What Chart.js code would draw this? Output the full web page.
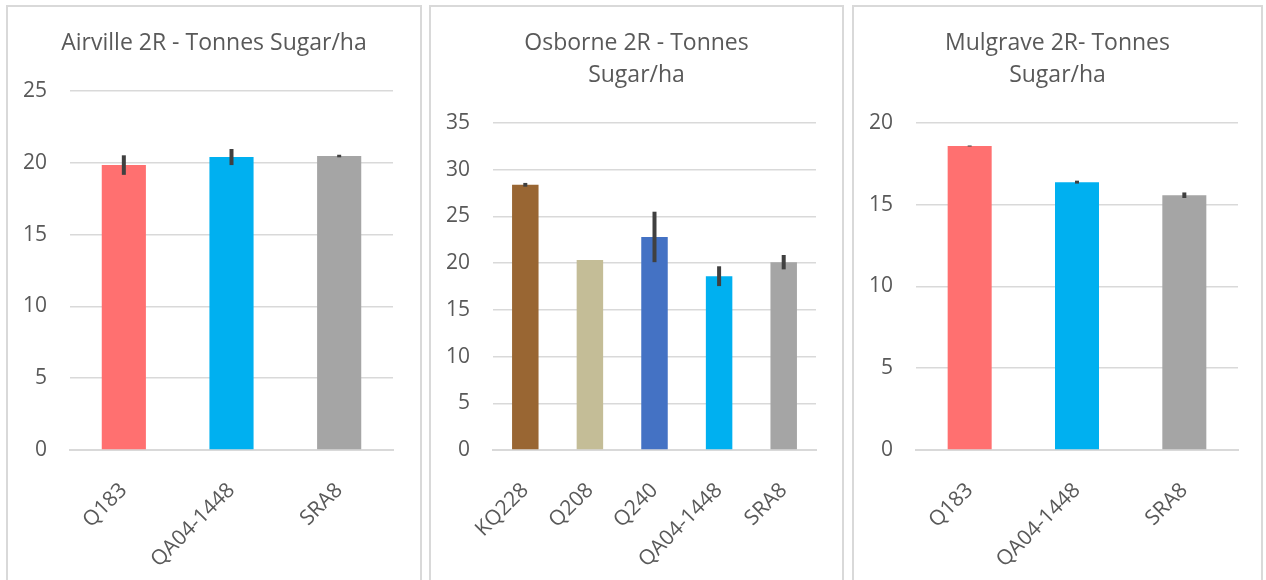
<!DOCTYPE html>
<html>
<head>
<meta charset="utf-8">
<script src="https://cdn.jsdelivr.net/npm/chart.js@4.4.1/dist/chart.umd.min.js"></script>
<style>
    body { margin: 0; background: #fff; width: 1266px; height: 580px; overflow: hidden; position: relative; }
    .panel { position: absolute; top: 5px; height: 600px; border: 2px solid #d9d9d9; box-sizing: border-box; background: #fff; }
    .panel canvas { position: absolute; left: 0; top: 0; }
</style>
</head>
<body>
<div class="panel" id="p1" style="left:6px; width:416px;"><canvas id="c1" width="412" height="573"></canvas></div>
<div class="panel" id="p2" style="left:429px; width:415px;"><canvas id="c2" width="411" height="573"></canvas></div>
<div class="panel" id="p3" style="left:852px; width:411px;"><canvas id="c3" width="407" height="573"></canvas></div>
<script>
// Datos
const airvilleCats = ['Q183', 'QA04-1448', 'SRA8'];
const airvilleVals = [19.84, 20.40, 20.47];
const airvilleErr = [0.68, 0.56, 0.09];

const osborneCats = ['KQ228', 'Q208', 'Q240', 'QA04-1448', 'SRA8'];
const osborneVals = [28.38, 20.33, 22.8, 18.6, 20.1];
const osborneErr = [0.2, 0, 2.7, 1.06, 0.77];

const mulgraveCats = ['Q183', 'QA04-1448', 'SRA8'];
const mulgraveVals = [18.59, 16.38, 15.58];
const mulgraveErr = [0.03, 0.09, 0.17];

// Colores por variedad
const colores = {
    'Q183': '#FF7070',
    'QA04-1448': '#00B0F0',
    'SRA8': '#A5A5A5',
    'KQ228': '#996633',
    'Q208': '#C4BD97',
    'Q240': '#4472C4'
};

const textColor = '#595959';
const gridColor = '#d9d9d9';
const fuente = 'Open Sans';

// Plugin para dibujar las barras de error con las escalas del grafico
const errorBars = {
    id: 'errorBars',
    afterDatasetsDraw(chart) {
        const ctx = chart.ctx;
        const yScale = chart.scales.y;
        const meta = chart.getDatasetMeta(0);
        const ds = chart.data.datasets[0];
        ctx.save();
        ctx.strokeStyle = '#404040';
        ctx.lineWidth = 4;
        meta.data.forEach(function (bar, i) {
            const e = ds.errors[i];
            if (!e) return;
            const v = ds.data[i];
            ctx.beginPath();
            ctx.moveTo(bar.x, yScale.getPixelForValue(v + e));
            ctx.lineTo(bar.x, yScale.getPixelForValue(v - e));
            ctx.stroke();
        });
        ctx.restore();
    }
};

function crearGrafico(id, titulo, cats, vals, errs, maxY, margenDer) {
    const ctx = document.getElementById(id).getContext('2d');
    return new Chart(ctx, {
        type: 'bar',
        data: {
            labels: cats,
            datasets: [{
                data: vals,
                errors: errs,
                backgroundColor: cats.map(c => colores[c]),
                barPercentage: 0.41,
                categoryPercentage: 1
            }]
        },
        options: {
            responsive: false,
            animation: false,
            devicePixelRatio: 1,
            layout: { padding: 0 },
            plugins: {
                legend: { display: false },
                tooltip: { enabled: false },
                title: {
                    display: true,
                    text: titulo,
                    color: textColor,
                    font: { family: fuente, size: 23, weight: 'normal', lineHeight: 1.39 },
                    padding: { top: 20, bottom: 32 }
                }
            },
            scales: {
                x: {
                    grid: { display: false },
                    border: { display: true, color: gridColor, width: 2 },
                    ticks: {
                        color: textColor,
                        font: { family: fuente, size: 21 },
                        minRotation: 45,
                        maxRotation: 45,
                        padding: 20
                    },
                    afterFit: function (scale) { scale.height = 130; }
                },
                y: {
                    min: 0,
                    max: maxY,
                    grid: { color: gridColor, lineWidth: 1.5, drawTicks: false },
                    border: { display: false },
                    ticks: {
                        stepSize: 5,
                        color: textColor,
                        font: { family: fuente, size: 21 },
                        padding: 23
                    },
                    afterFit: function (scale) { scale.width = 62; }
                },
                // eje vacio a la derecha, solo para dejar margen
                yMargen: {
                    position: 'right',
                    min: 0,
                    max: maxY,
                    grid: { display: false },
                    border: { display: false },
                    ticks: { display: false },
                    afterFit: function (scale) { scale.width = margenDer; }
                }
            }
        },
        plugins: [errorBars]
    });
}

crearGrafico('c1', 'Airville 2R - Tonnes Sugar/ha', airvilleCats, airvilleVals, airvilleErr, 25, 27);
crearGrafico('c2', ['Osborne 2R - Tonnes', 'Sugar/ha'], osborneCats, osborneVals, osborneErr, 35, 26);
crearGrafico('c3', ['Mulgrave 2R- Tonnes', 'Sugar/ha'], mulgraveCats, mulgraveVals, mulgraveErr, 20, 23);
</script>
</body>
</html>
